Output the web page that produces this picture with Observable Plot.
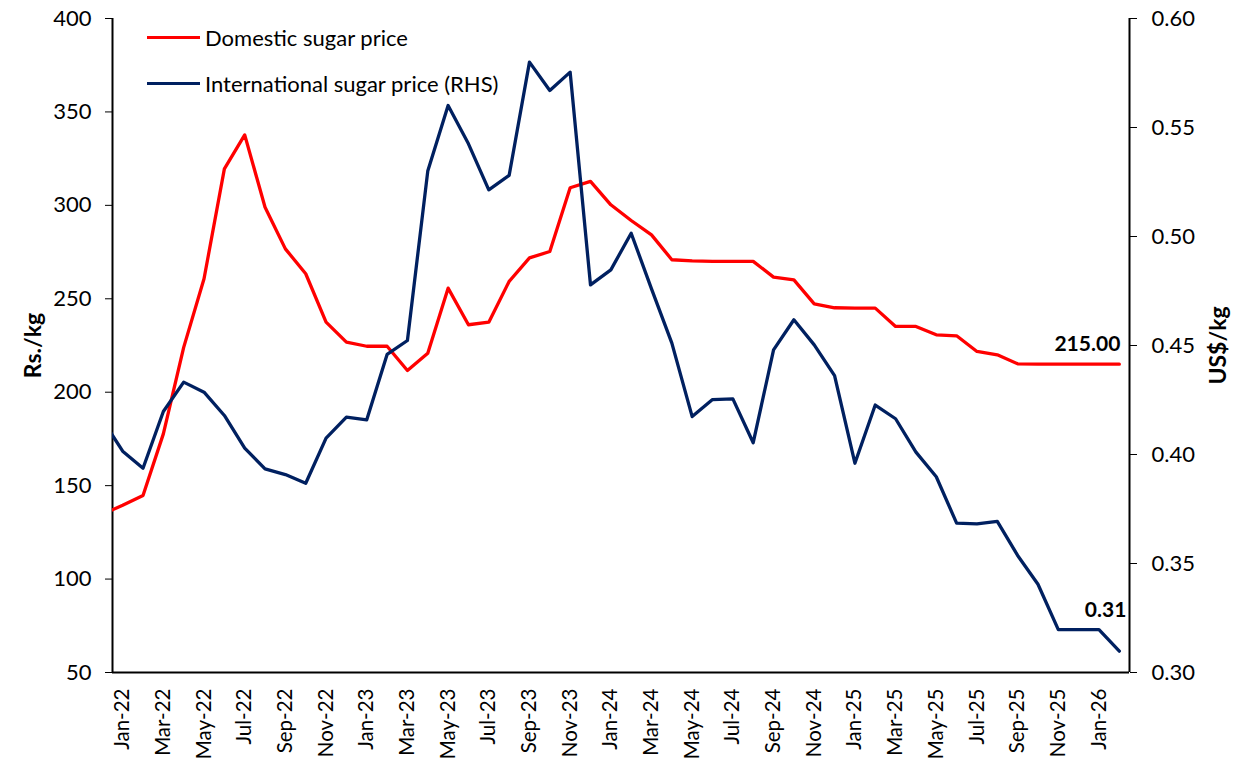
<!DOCTYPE html>
<html><head><meta charset="utf-8">
<script src="https://cdn.jsdelivr.net/npm/d3@7"></script>
<script src="https://cdn.jsdelivr.net/npm/@observablehq/plot@0.6"></script>
<style>
body{margin:0;background:#fff;font-family:Lato,sans-serif;}
#wrap{position:relative;width:1241px;height:762px;}
.item{position:absolute;display:flex;align-items:center;white-space:nowrap;font-size:22px;color:#000;height:26px;}
.swatch{width:53px;height:3px;margin-right:5px;}
</style></head>
<body><div id="wrap"></div>
<script>
const months = ["Dec-21",
 "Jan-22","Feb-22","Mar-22","Apr-22","May-22","Jun-22","Jul-22","Aug-22","Sep-22","Oct-22","Nov-22","Dec-22",
 "Jan-23","Feb-23","Mar-23","Apr-23","May-23","Jun-23","Jul-23","Aug-23","Sep-23","Oct-23","Nov-23","Dec-23",
 "Jan-24","Feb-24","Mar-24","Apr-24","May-24","Jun-24","Jul-24","Aug-24","Sep-24","Oct-24","Nov-24","Dec-24",
 "Jan-25","Feb-25","Mar-25","Apr-25","May-25","Jun-25","Jul-25","Aug-25","Sep-25","Oct-25","Nov-25","Dec-25",
 "Jan-26","Feb-26"];
const domestic = [134.7,
 139.5,144.7,177.7,224.0,260.7,319.5,337.7,299.0,276.7,263.4,237.5,226.8,
 224.6,224.6,211.6,220.9,255.7,236.1,237.5,259.3,271.9,275.3,309.4,312.8,
 300.3,291.9,284.2,270.9,270.3,270.0,270.0,270.0,261.6,260.1,247.3,245.2,
 245.0,245.0,235.2,235.2,230.7,230.2,221.8,220.0,215.2,215.0,215.0,215.0,
 215.0,215.0];
const international = [0.416,
 0.4015,0.3937,0.4197,0.4332,0.4286,0.4179,0.4029,0.3934,0.3908,0.3868,0.4075,0.4171,
 0.4159,0.4459,0.4523,0.530,0.5601,0.5425,0.5214,0.528,0.580,0.567,0.5754,0.4778,
 0.4847,0.5015,0.476,0.4511,0.4174,0.4252,0.4255,0.4054,0.448,0.4618,0.4503,0.4362,
 0.396,0.4227,0.4164,0.4011,0.3898,0.3685,0.3682,0.3693,0.3537,0.3405,0.3197,0.3197,
 0.3197,0.3098];
const leftTicks = [50,100,150,200,250,300,350,400];
const rightTicks = [0.30,0.35,0.40,0.45,0.50,0.55,0.60];
const seriesNames = ["Domestic sugar price","International sugar price (RHS)"];
const seriesColors = ["#ff0000","#002060"];
const leftTitle = "Rs./kg";
const rightTitle = "US$/kg";

const lMin = 50, lMax = 400, rMin = 0.30, rMax = 0.60;
const toLeft = v => lMin + (v - rMin) * (lMax - lMin) / (rMax - rMin);
const fromLeft = v => rMin + (v - lMin) * (rMax - rMin) / (lMax - lMin);

const rows = months.map((m, i) => ({i, m, dom: domestic[i], intl: international[i], intlL: toLeft(international[i])}));
const last = rows[rows.length - 1];
const xTicks = d3.range(1, months.length, 2);
const font = "Lato, sans-serif";

const chart = Plot.plot({
  width: 1241, height: 762,
  marginLeft: 112, marginRight: 112, marginTop: 18, marginBottom: 90,
  style: {fontFamily: font, fontSize: "22px", color: "#000", background: "#fff"},
  x: {domain: [0.5, months.length - 0.5]},
  y: {domain: [lMin, lMax]},
  marks: [
    Plot.axisY(leftTicks, {anchor: "left", tickSize: 7, tickPadding: 14, label: null, fontSize: 22}),
    Plot.axisY(rightTicks.map(toLeft), {anchor: "right", tickSize: 7, tickPadding: 15, label: null, fontSize: 22, tickFormat: d => fromLeft(d).toFixed(2)}),
    Plot.axisX(xTicks, {anchor: "bottom", tickSize: 0, tickPadding: 16, tickRotate: -90, label: null, fontSize: 20.5, tickFormat: i => months[i]}),
    Plot.ruleX([0.5, months.length - 0.5], {stroke: "#000", strokeWidth: 2}),
    Plot.ruleY([lMin], {stroke: "#000", strokeWidth: 2}),
    Plot.text([leftTitle], {frameAnchor: "left", dx: -79, rotate: -90, textAnchor: "middle", fontWeight: "bold", fontSize: 23, fill: "#000"}),
    Plot.text([rightTitle], {frameAnchor: "right", dx: 89, rotate: -90, textAnchor: "middle", fontWeight: "bold", fontSize: 23, fill: "#000"}),
    Plot.line(rows, {x: "i", y: "dom", stroke: seriesColors[0], strokeWidth: 3.3, clip: true}),
    Plot.line(rows, {x: "i", y: "intlL", stroke: seriesColors[1], strokeWidth: 3.3, clip: true}),
    Plot.text([last], {x: "i", y: "dom", text: d => d.dom.toFixed(2), textAnchor: "end", dx: 1, dy: -20, fontWeight: "bold", fontSize: 21, fill: "#000"}),
    Plot.text([last], {x: "i", y: "intlL", text: d => d.intl.toFixed(2), textAnchor: "end", dx: 7, dy: -41, fontWeight: "bold", fontSize: 21, fill: "#000"})
  ]
});
const wrap = document.getElementById("wrap");
wrap.appendChild(chart);
seriesNames.forEach((name, k) => {
  const it = document.createElement("div");
  it.className = "item";
  it.style.left = "147px";
  it.style.top = (24 + k * 46) + "px";
  it.innerHTML = `<span class="swatch" style="background:${seriesColors[k]}"></span><span>${name}</span>`;
  wrap.appendChild(it);
});
</script>
</body></html>
